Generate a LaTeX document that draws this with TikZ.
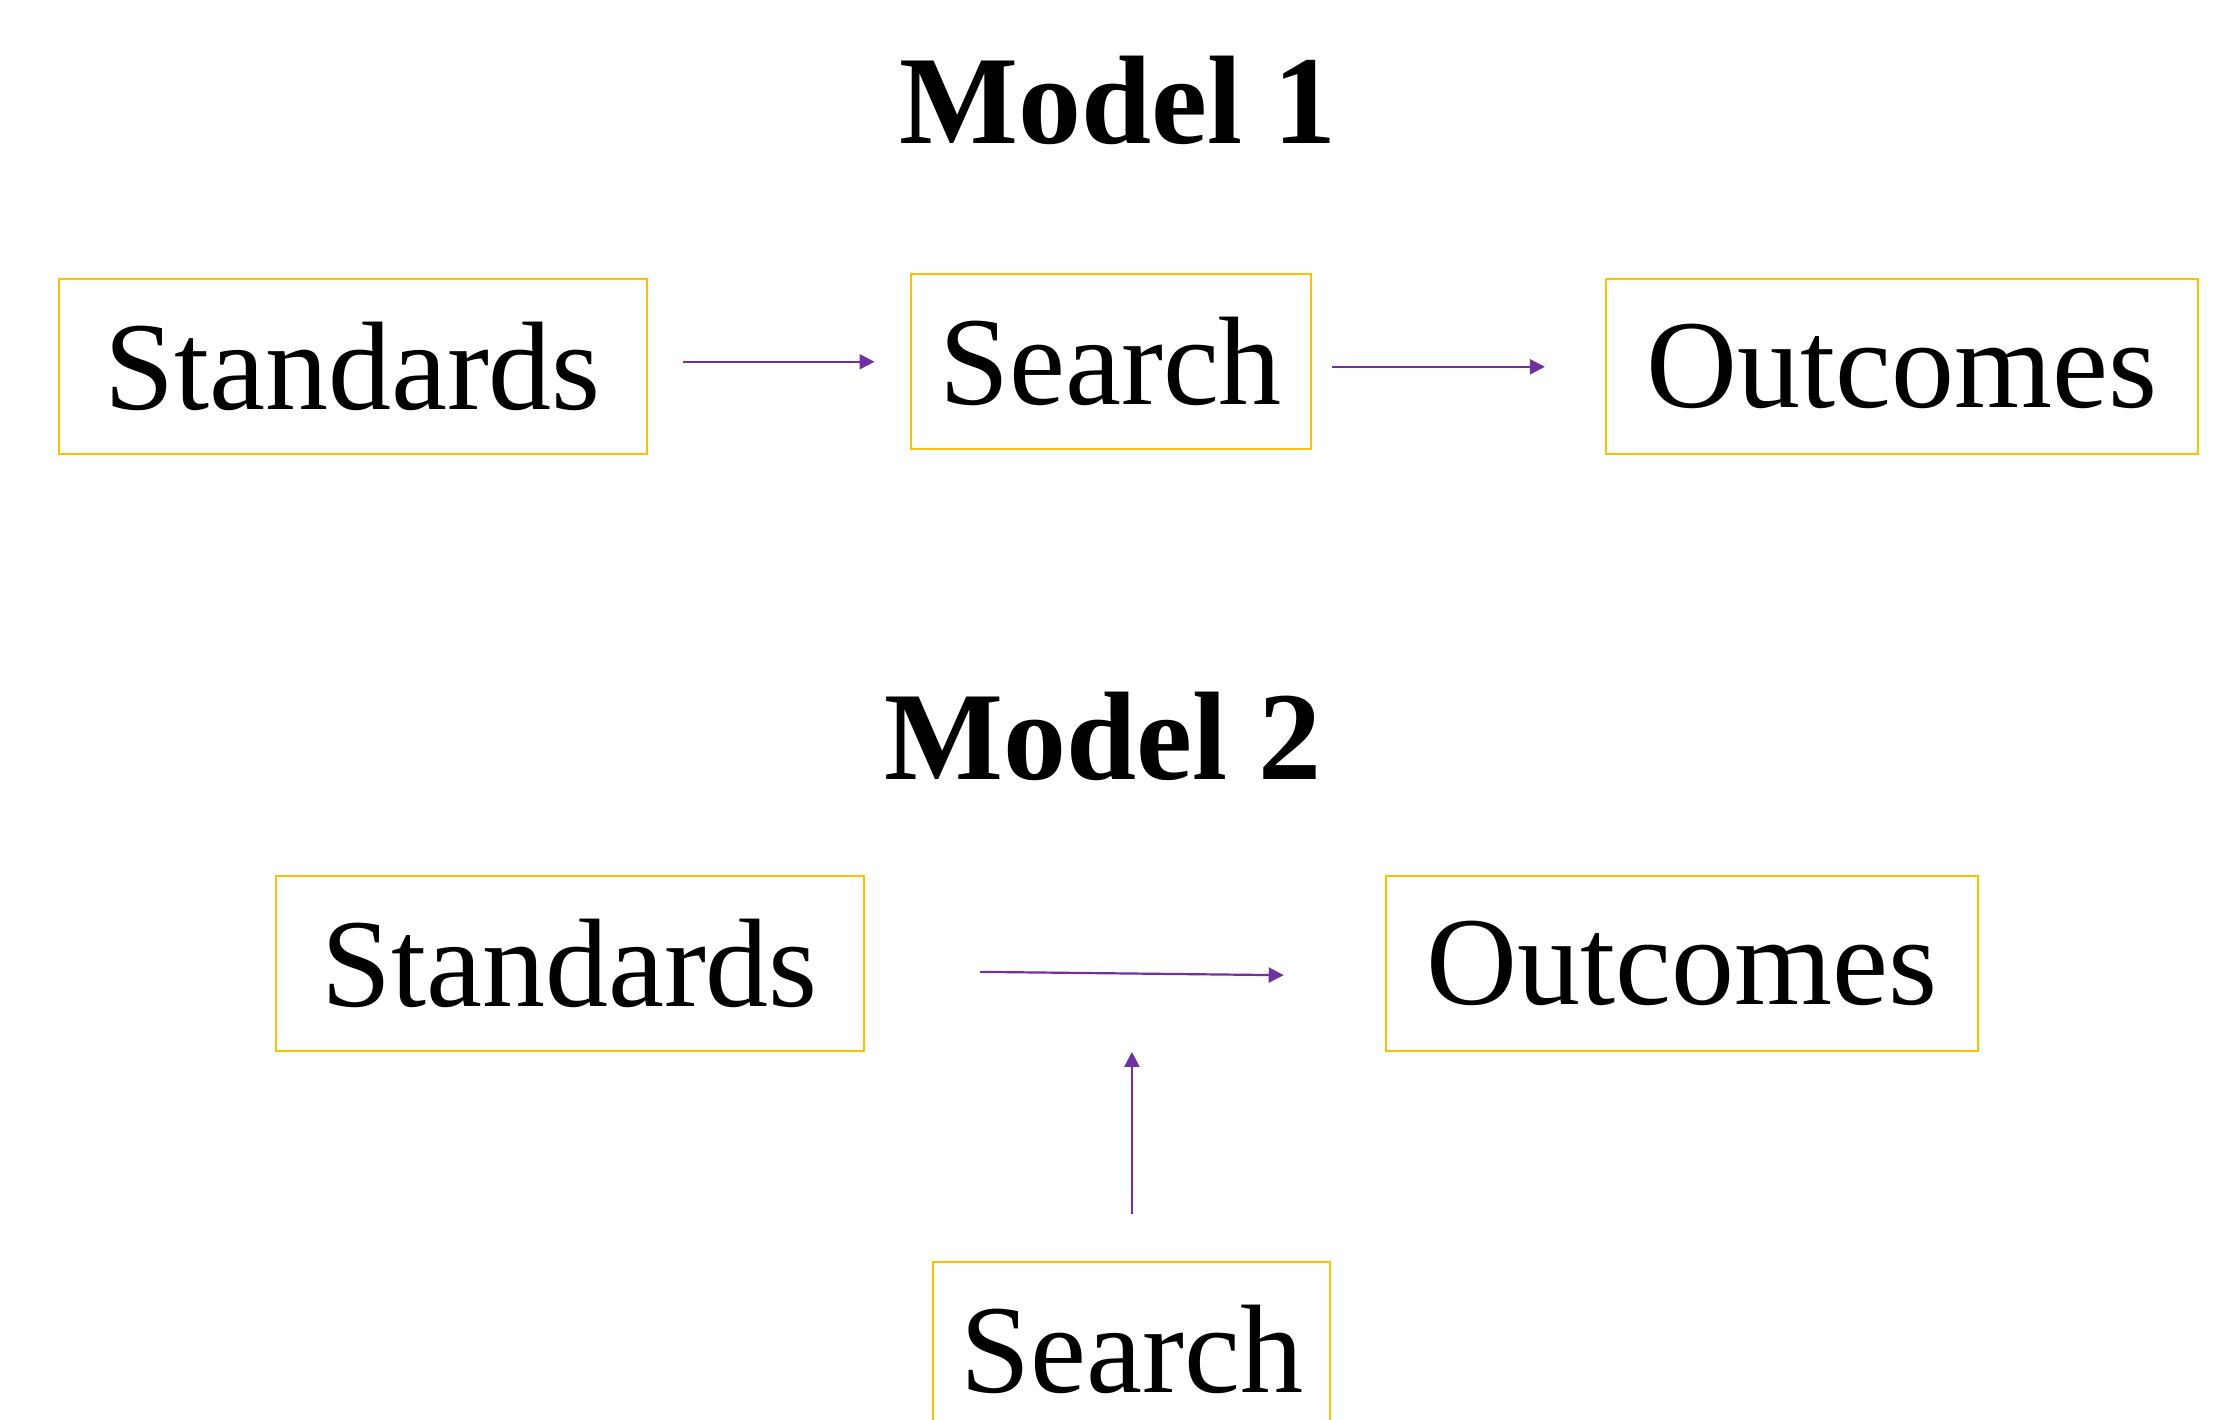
\documentclass[tikz,border=0pt]{standalone}
\usepackage{fontspec}
\setmainfont{Liberation Serif}
\usetikzlibrary{arrows.meta,calc}
\definecolor{boxgold}{HTML}{FFC000}
\definecolor{arrowpurple}{HTML}{7030A0}
\begin{document}
\begin{tikzpicture}[x=1pt,y=-1pt,
  box/.style={draw=boxgold,line width=2pt,inner sep=0pt,minimum height=175pt,
    font=\fontsize{126}{150}\selectfont},
  title/.style={anchor=base,inner sep=0pt,font=\fontsize{126}{150}\selectfont\bfseries},
  arr/.style={draw=arrowpurple,line width=2.2pt,-{Triangle[length=15pt,width=15pt]}}]
\clip (0,0) rectangle (2238,1420);
\fill[white] (0,0) rectangle (2238,1420);
% Model 1
\node[title] (t1) at (1118,144) {Model 1};
\node[box,minimum width=588pt] (std1) at (352.5,366.8) {Standards};
\node[box,minimum width=400pt] (srch1) at (1110.5,361.8) {Search};
\node[box,minimum width=592pt] (out1) at (1901.9,366.8) {Outcomes};
\draw[arr,shorten <=35pt,shorten >=35pt] (std1.east |- srch1.west) -- (srch1.west);
\draw[arr,shorten <=20pt,shorten >=60pt] (srch1.east |- out1.west) -- (out1.west);
% Model 2
\node[title] (t2) at (1103,779) {Model 2};
\node[box,minimum width=588pt] (std2) at (569.5,963.4) {Standards};
\node[box,minimum width=592pt] (out2) at (1682,963.4) {Outcomes};
\node[box,minimum width=397pt] (srch2) at (1131.9,1349.5) {Search};
\draw[arr,shorten <=115.5pt,shorten >=101.3pt] ($(std2.east)+(0,7.2)$) -- ($(out2.west)+(0,12.9)$);
\draw[arr,shorten <=47pt] (srch2.north) -- (srch2.north |- out2.south);
\end{tikzpicture}
\end{document}
